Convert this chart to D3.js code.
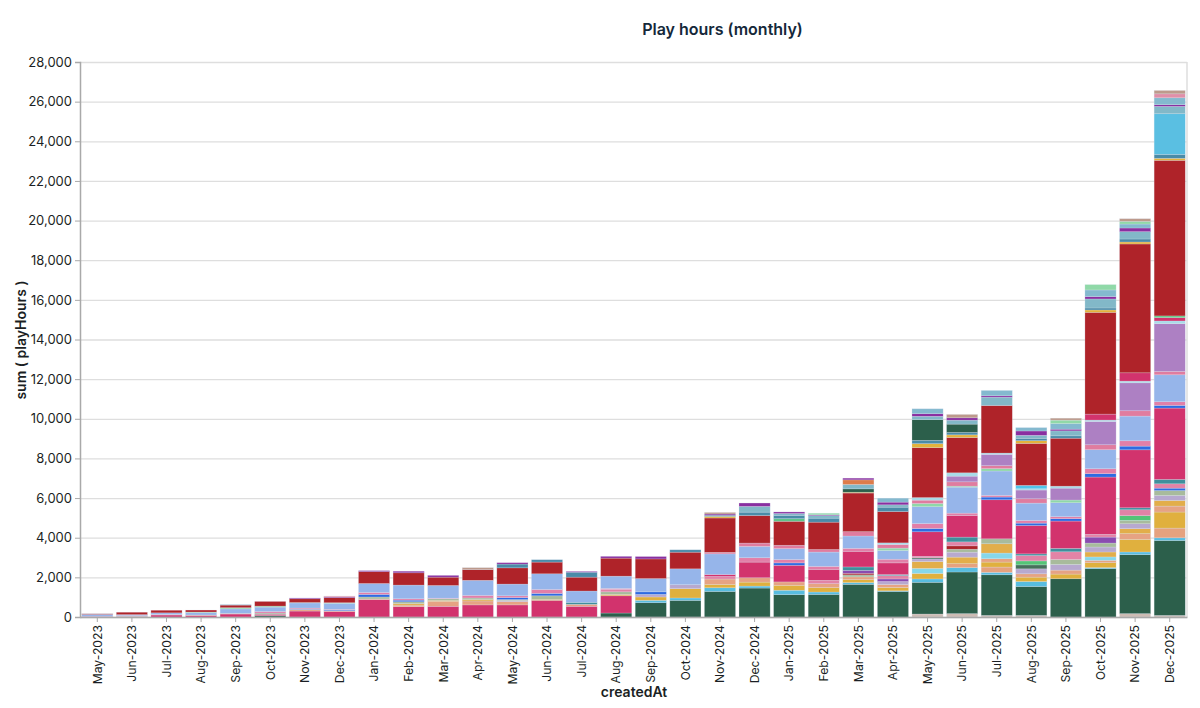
<!DOCTYPE html>
<html>
<head>
<meta charset="utf-8">
<script src="https://cdn.jsdelivr.net/npm/d3@7"></script>
<style>
  html, body { margin: 0; padding: 0; background: #fff; }
  text { font-family: "Inter", "Liberation Sans", sans-serif; fill: #1b1f24; }
  .domain { stroke: #a9a9a9; stroke-width: 1.5; }
  .tick line { stroke: #a9a9a9; }
  .grid .tick line { stroke: #dedede; stroke-width: 1.3; }
  .grid .domain { display: none; }
</style>
</head>
<body>
<div id="chart"></div>
<script>
var months = ['May-2023','Jun-2023','Jul-2023','Aug-2023','Sep-2023','Oct-2023','Nov-2023','Dec-2023',
  'Jan-2024','Feb-2024','Mar-2024','Apr-2024','May-2024','Jun-2024','Jul-2024','Aug-2024','Sep-2024','Oct-2024','Nov-2024','Dec-2024',
  'Jan-2025','Feb-2025','Mar-2025','Apr-2025','May-2025','Jun-2025','Jul-2025','Aug-2025','Sep-2025','Oct-2025','Nov-2025','Dec-2025'];
var yTicks = [0,2000,4000,6000,8000,10000,12000,14000,16000,18000,20000,22000,24000,26000,28000];

// one array per stacked series, bottom of the stack first
var base =      [0,0,0,0,0,0,0,0, 0,0,0,0,0,0,0,0,0,0,0,0, 0,0,0,0,150,170,80,80,0,0,170,80];
var green =     [0,0,0,0,0,70,0,0, 0,0,0,0,0,0,0,200,720,840,1290,1460, 1130,1140,1650,1290,1600,2100,2050,1460,1930,2440,2975,3780];
var crimson0 =  [30,20,100,80,150,70,300,280, 880,520,540,610,610,840,540,870,0,0,0,0, 0,0,0,0,0,0,0,0,0,0,0,0];
var sky =       [0,0,0,0,0,0,0,0, 0,0,0,0,0,0,0,0,120,120,185,100, 220,120,85,30,170,220,120,250,0,50,135,135];
var peach =     [0,0,0,0,0,0,0,0, 0,0,0,0,0,0,0,0,0,0,0,0, 0,0,0,0,0,200,270,0,0,0,0,490];
var gold =      [0,0,0,0,0,0,0,0, 0,0,0,0,0,0,0,0,170,470,170,200, 250,220,150,170,280,0,250,220,235,250,640,810];
var salmon =    [0,0,20,20,30,0,80,40, 30,80,250,200,170,0,100,0,0,0,270,220, 170,200,140,150,0,0,170,170,200,120,285,300];
var paleSky =   [0,0,0,0,0,0,0,0, 0,0,0,0,0,0,0,0,0,0,0,0, 0,0,0,0,250,0,285,0,0,170,0,0];
var amber2 =    [0,0,0,0,0,0,0,0, 0,80,50,70,0,50,0,70,0,0,0,0, 0,0,0,0,350,330,470,0,0,250,250,285];
var lilac =     [0,0,0,0,0,0,0,0, 0,0,0,0,50,0,0,0,130,200,0,0, 0,0,0,150,130,250,0,250,285,250,250,250];
var sage =      [0,20,0,0,0,60,0,0, 100,90,80,80,50,180,0,130,0,0,0,0, 0,0,100,0,0,150,250,0,250,200,170,250];
var brick =     [0,0,0,0,0,0,0,0, 0,0,0,0,0,0,0,0,0,0,0,0, 0,0,80,0,0,170,0,0,0,0,0,0];
var royal =     [0,0,0,0,0,0,20,40, 130,80,0,0,100,120,0,0,130,0,0,0, 0,0,0,0,0,0,0,0,0,0,0,120];
var darkStripe =[0,0,0,0,0,0,0,0, 0,0,0,0,0,0,0,0,0,0,0,0, 0,0,0,0,60,0,0,200,0,0,0,0];
var lime =      [0,0,0,0,0,0,0,0, 0,0,0,0,0,0,0,0,0,0,0,0, 0,0,0,0,0,0,0,200,0,0,235,0];
var purple2 =   [0,0,0,0,0,0,0,0, 0,0,0,0,0,0,0,0,0,0,0,0, 0,0,150,130,0,0,0,0,0,300,0,0];
var rose2 =     [0,0,0,0,0,0,0,0, 0,0,0,0,0,0,0,120,0,0,130,0, 0,170,0,170,70,200,0,270,390,140,300,220];
var teal2 =     [0,0,0,0,0,0,0,0, 0,0,0,0,0,0,100,0,0,0,0,0, 0,0,170,50,0,240,0,85,170,0,100,220];
var crimson =   [0,0,0,0,0,0,0,0, 0,0,0,0,0,0,0,0,0,0,100,790, 840,555,790,590,1240,1090,1970,1430,1380,2890,2925,3600];
var blue =      [0,0,0,0,0,0,0,0, 0,0,0,0,0,0,0,0,0,0,0,0, 120,0,0,0,165,0,135,120,120,170,185,135];
var rose =      [0,30,10,0,0,80,50,30, 100,70,30,130,90,200,0,50,0,0,0,220, 170,150,150,185,250,120,85,135,100,250,270,185];
var peri =      [100,50,80,120,230,220,260,300, 450,690,640,760,590,790,570,620,670,800,1040,570, 550,720,620,440,850,1310,1230,875,705,960,1245,1360];
var mint =      [0,0,0,30,60,50,20,30, 0,0,0,0,0,0,0,0,0,0,0,0, 0,0,0,120,160,50,120,0,135,0,0,0];
var rose3 =     [0,0,0,0,0,0,0,0, 0,0,0,0,0,0,0,0,0,0,80,170, 170,130,220,185,170,220,150,220,0,250,270,170];
var purple =    [0,0,0,0,0,0,0,0, 0,0,0,0,0,0,0,0,0,0,0,0, 0,0,0,0,0,285,570,440,600,1175,1410,2410];
var pale =      [0,0,0,0,0,0,0,0, 0,0,0,0,0,0,0,0,0,0,0,0, 0,0,0,80,130,170,65,65,100,70,85,135];
var azure =     [0,0,0,0,0,0,0,0, 0,0,0,0,0,0,0,0,0,0,0,0, 0,0,0,0,0,0,0,170,0,0,0,0];
var crimson2 =  [0,0,0,0,0,0,0,0, 0,0,0,0,0,0,0,0,0,0,0,0, 0,0,0,0,0,0,0,0,0,300,420,170];
var limeTop =   [0,0,0,0,0,0,0,0, 0,0,0,0,0,0,0,0,0,0,0,0, 0,0,0,0,0,0,0,0,0,0,0,85];
var darkred =   [30,120,130,100,130,235,190,260, 600,620,420,540,820,590,700,910,990,840,1730,1390, 1210,1380,1950,1580,2520,1780,2400,2120,2420,5135,6500,7850];
var topMint =   [0,0,0,0,0,0,0,0, 0,0,0,0,0,0,0,0,0,0,0,0, 130,0,0,0,0,0,0,0,0,0,0,0];
var topAmber =  [0,0,0,0,0,0,0,0, 0,0,0,0,0,0,0,0,0,0,80,0, 0,0,40,0,200,135,0,135,0,120,100,100];
var teal =      [0,0,0,0,20,0,0,0, 0,0,0,0,190,120,250,0,0,120,60,170, 170,200,0,220,170,120,0,120,120,100,150,200];
var green2 =    [0,0,0,0,0,0,0,0, 0,0,0,0,0,0,0,0,0,0,0,0, 0,0,170,0,1040,420,0,0,0,0,0,0];
var sky2 =      [0,0,0,0,0,0,0,0, 0,0,0,0,0,0,0,0,0,0,0,0, 0,0,0,0,0,0,0,0,0,0,0,2050];
var ltteal =    [0,0,0,0,0,0,0,0, 0,0,0,0,0,0,0,0,0,0,0,290, 90,130,220,120,170,200,420,150,250,455,370,370];
var orange =    [0,0,0,0,0,0,0,0, 0,0,0,0,0,0,0,0,0,0,0,0, 0,0,235,0,0,0,0,0,0,0,0,0];
var violet =    [0,0,0,0,0,0,40,40, 50,80,90,0,70,0,40,90,120,0,60,170, 80,40,85,135,130,120,70,220,85,120,185,85];
var ltblue =    [0,0,0,0,0,0,0,0, 0,0,0,0,0,0,0,0,0,0,0,0, 0,0,0,200,250,0,270,170,285,335,200,350];
var mint2 =     [0,0,0,0,0,0,0,0, 0,0,0,0,0,0,0,0,0,0,0,0, 0,80,0,0,0,0,0,0,170,270,135,0];
var topPink =   [0,0,0,0,0,0,0,40, 0,0,0,0,0,0,0,0,0,0,0,0, 0,0,0,0,0,0,0,0,0,0,0,200];
var tanTop =    [10,0,0,0,0,0,0,0, 0,0,0,100,0,0,0,0,0,0,80,0, 0,0,0,0,0,170,0,0,100,0,135,170];

var seriesValues = [base,green,crimson0,sky,peach,gold,salmon,paleSky,amber2,lilac,sage,brick,royal,darkStripe,lime,purple2,rose2,teal2,
  crimson,blue,rose,peri,mint,rose3,purple,pale,azure,crimson2,limeTop,darkred,topMint,topAmber,teal,green2,sky2,ltteal,orange,violet,ltblue,mint2,topPink,tanTop];
var seriesColors = ['#cdbcb4','#2c5f4b','#d2336d','#58bde0','#e5a27f','#e0b03e','#e6a383','#86d7ea','#e2ae4a','#b7a9cf','#a8bb9c','#ad2429','#2e6be2','#47705b','#55c477','#8a4bb0','#e283a6','#3f8f9c',
  '#d2336d','#2e6be2','#e27fa8','#96b5ea','#8fd8a8','#e07c9f','#ad80c3','#a8dbe8','#4fc5ea','#d2336d','#58c878','#af2329','#60c48a','#e3b23c','#4a8ba8','#2c5f4b','#5abfe2','#82b8c8','#dd7c4a','#8a2fa0','#84b9cf','#90d9a8','#e08fa8','#bd9a8c'];

var width = 1200, height = 708;
var plotLeft = 80, plotRight = 1187, plotTop = 62, plotBottom = 617;

var svg = d3.select('#chart').append('svg')
  .attr('width', width)
  .attr('height', height)
  .style('display', 'block');

var x = d3.scaleBand().domain(months).range([plotLeft, plotRight]).paddingInner(0.1).paddingOuter(0.05);
var y = d3.scaleLinear().domain([0, 28000]).range([plotBottom, plotTop]);

// rows for the stack, one per month
var keys = seriesValues.map(function (d, i) { return i; });
var rows = months.map(function (m, j) {
  var row = { month: m };
  keys.forEach(function (k) { row[k] = seriesValues[k][j]; });
  return row;
});
var stacked = d3.stack().keys(keys)(rows);

svg.append('g')
  .attr('class', 'grid')
  .attr('transform', 'translate(' + plotLeft + ',0)')
  .call(d3.axisLeft(y).tickValues(yTicks).tickSize(-(plotRight - plotLeft)).tickFormat(''));

svg.append('line')
  .attr('x1', plotRight).attr('x2', plotRight)
  .attr('y1', plotTop).attr('y2', plotBottom)
  .attr('stroke', '#dedede').attr('stroke-width', 1.5);

svg.selectAll('.layer')
  .data(stacked)
  .enter()
  .append('g')
  .attr('class', 'layer')
  .attr('fill', function (d) { return seriesColors[d.key]; })
  .selectAll('rect')
  .data(function (d) { return d.filter(function (p) { return p[1] > p[0]; }); })
  .enter()
  .append('rect')
  .attr('x', function (d) { return x(d.data.month); })
  .attr('width', x.bandwidth())
  .attr('y', function (d) { return y(d[1]); })
  .attr('height', function (d) { return y(d[0]) - y(d[1]); })
  .attr('stroke', '#dfe6f2')
  .attr('stroke-opacity', 0.4)
  .attr('stroke-width', 0.6);

var yAxis = svg.append('g')
  .attr('transform', 'translate(' + plotLeft + ',0)')
  .call(d3.axisLeft(y).tickValues(yTicks).tickSize(5).tickPadding(3).tickFormat(d3.format(',')));
yAxis.selectAll('text').style('font-size', '13px');

var xAxis = svg.append('g')
  .attr('transform', 'translate(0,' + plotBottom + ')')
  .call(d3.axisBottom(x).tickSize(5).tickSizeOuter(0));
xAxis.selectAll('text')
  .style('font-size', '12.2px')
  .attr('transform', 'rotate(-90)')
  .attr('text-anchor', 'end')
  .attr('x', -8)
  .attr('y', 0)
  .attr('dy', '0.35em');

svg.append('text')
  .attr('x', 722.5)
  .attr('y', 35)
  .attr('text-anchor', 'middle')
  .style('font-size', '16px')
  .style('font-weight', 600)
  .style('fill', '#14283a')
  .text('Play hours (monthly)');

svg.append('text')
  .attr('transform', 'translate(26,340) rotate(-90)')
  .attr('text-anchor', 'middle')
  .style('font-size', '14px')
  .style('font-weight', 600)
  .text('sum ( playHours )');

svg.append('text')
  .attr('x', 634)
  .attr('y', 697)
  .attr('text-anchor', 'middle')
  .style('font-size', '14px')
  .style('font-weight', 600)
  .text('createdAt');
</script>
</body>
</html>
